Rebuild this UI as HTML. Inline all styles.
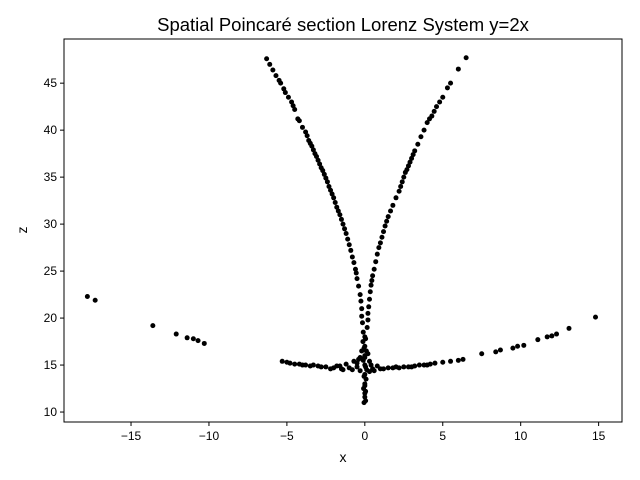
<!DOCTYPE html>
<html><head><meta charset="utf-8"><style>
body{margin:0;background:#fff}
svg{display:block;font-family:"Liberation Sans","DejaVu Sans",sans-serif}
</style></head><body>
<svg id="chart" width="640" height="480">
<rect width="640" height="480" fill="#fff"/>
<text x="343" y="31" text-anchor="middle" font-size="18.5">Spatial Poincaré section Lorenz System y=2x</text>
<g id="marks"></g>
<g id="axes"></g>
<text x="343" y="462" text-anchor="middle" font-size="14">x</text>
<text x="27" y="230" text-anchor="middle" font-size="14" transform="rotate(-90 27 230)">z</text>
</svg>
<script>
const xs = [-6.3,-5.9,-5.5,-5.4,-5.1,-4.9,-4.7,-4.5,-4.2,-3.8,-3.6,-3.4,-3.2,-3.0,-2.8,-2.6,-2.4,-2.2,-2.0,-1.8,-1.6,-1.4,-1.2,-1.0,-0.8,-0.6,-0.5,-0.3,-0.2,-0.15,-0.1,
6.5,6.0,5.3,5.0,4.6,4.3,4.0,3.6,3.2,3.0,2.8,2.6,2.4,2.2,1.8,1.5,1.3,1.1,0.9,0.7,0.5,0.4,0.3,0.2,0.15,
0,0,0,0,0,0,0,0.05,-0.05,0.1,-0.1,0.08,-0.08,0.12,-0.12,
-5.3,-5.0,-4.5,-4.0,-3.5,-3.0,-2.5,-2.0,-1.5,-1.0,-0.5,-1.8,-1.2,-0.7,-0.3,
0.5,1.0,1.5,2.0,2.5,3.0,3.5,4.0,4.5,5.0,5.5,6.0,6.3,0.3,0.8,
-17.8,-17.3,-13.6,-12.1,-11.4,-11.0,-10.7,-10.3,
7.5,8.4,8.7,9.5,9.8,10.2,11.1,11.7,12.0,12.3,13.1,14.8,
-6.1,-5.7,-5.2,-4.6,-4.3,-4.0,-3.7,-3.5,-3.3,-3.1,-2.9,-2.7,-2.5,-2.3,-2.1,-1.9,-1.7,-1.5,-1.3,-1.1,-0.9,-0.7,-0.55,-0.4,-0.25,-0.2,
5.5,4.8,4.45,4.15,3.8,3.4,3.1,2.9,2.7,2.5,2.3,2.0,1.65,1.4,1.2,1.0,0.8,0.6,0.45,0.35,0.25,0.2,
0.05,-0.05,0,0.05,-0.05,0,0.05,0,-0.5,-0.3,0.3,0.6,-0.8,-1.4,-1.6,-2.2,-2.8,-3.3,-3.8,-4.2,-4.8,1.2,1.8,2.2,2.8,3.2,3.8,4.2,-0.2,0.2,-0.4,0.4];
const zs = [47.6,46.4,45.3,45.0,44.0,43.5,43.0,42.2,41.0,39.8,38.9,38.3,37.5,36.8,36.0,35.3,34.5,33.6,32.8,31.8,31.0,30.0,29.0,27.8,26.5,25.2,24.2,22.5,21.0,19.5,18.5,
47.7,46.5,44.5,43.5,42.5,41.5,40.8,39.3,37.8,37.0,36.2,35.5,34.5,33.5,32.0,30.8,29.8,28.6,27.5,26.0,24.5,23.5,22.0,20.5,19.0,
18,17,16,15,14,13,12,11.2,11.0,16.5,15.5,13.5,12.5,14.5,17.5,
15.4,15.3,15.1,15.0,14.9,14.9,14.8,14.7,14.6,14.7,14.8,14.9,15.1,15.4,15.8,
14.6,14.6,14.7,14.8,14.8,14.8,15.0,15.0,15.2,15.3,15.4,15.5,15.6,14.3,14.9,
22.3,21.9,19.2,18.3,17.9,17.8,17.6,17.3,
16.2,16.4,16.6,16.8,17.0,17.1,17.7,18.0,18.1,18.3,18.9,20.1,
47.0,45.8,44.4,42.6,41.2,40.3,39.4,38.6,37.9,37.2,36.4,35.7,34.9,34.0,33.2,32.3,31.4,30.5,29.5,28.4,27.2,25.9,24.8,23.4,21.8,20.2,
45.0,43.0,42.0,41.2,40.0,38.5,37.4,36.6,35.8,35.0,34.0,32.8,31.4,30.3,29.2,28.0,26.8,25.2,24.0,22.8,21.2,19.8,
17.8,16.8,15.8,14.8,13.8,12.8,12.2,11.6,15.2,14.4,15.4,14.4,14.5,14.5,14.9,14.6,14.8,15.0,15.0,15.1,15.2,14.6,14.7,14.7,14.8,14.9,15.0,15.1,16.5,16.2,15.6,15.0];
const xTicks = [-15,-10,-5,0,5,10,15];
const yTicks = [10,15,20,25,30,35,40,45];
const xLabels = ["\u221215","\u221210","\u22125","0","5","10","15"];
const yLabels = ["10","15","20","25","30","35","40","45"];
const L=64,R=622,T=39,B=422, X0=-19.3,X1=16.5, Y0=8.94,Y1=49.7;
const sx=v=>L+(v-X0)/(X1-X0)*(R-L);
const sy=v=>B-(v-Y0)/(Y1-Y0)*(B-T);
const NS="http://www.w3.org/2000/svg";
const marks=document.getElementById('marks'), axes=document.getElementById('axes');
function mk(tag,attrs,parent){const e=document.createElementNS(NS,tag);for(const k in attrs)e.setAttribute(k,attrs[k]);parent.appendChild(e);return e;}
xs.forEach((x,i)=>{const c=mk('circle',{cx:sx(x),cy:sy(zs[i]),r:2.5,fill:'#000'},marks);

});
const f=mk('rect',{x:L,y:T,width:R-L,height:B-T,fill:'none',stroke:'#000','stroke-width':1},axes);


xTicks.forEach((t,i)=>{const x=sx(t);mk('line',{x1:x,x2:x,y1:B,y2:B+4,stroke:'#000'},axes);
const tx=mk('text',{x:x,y:B+18,'text-anchor':'middle','font-size':12},axes);tx.textContent=xLabels[i];

});
yTicks.forEach((t,i)=>{const y=sy(t);mk('line',{x1:L-4,x2:L,y1:y,y2:y,stroke:'#000'},axes);
const tx=mk('text',{x:L-7,y:y+4,'text-anchor':'end','font-size':12},axes);tx.textContent=yLabels[i];

});
</script>
</body></html>
